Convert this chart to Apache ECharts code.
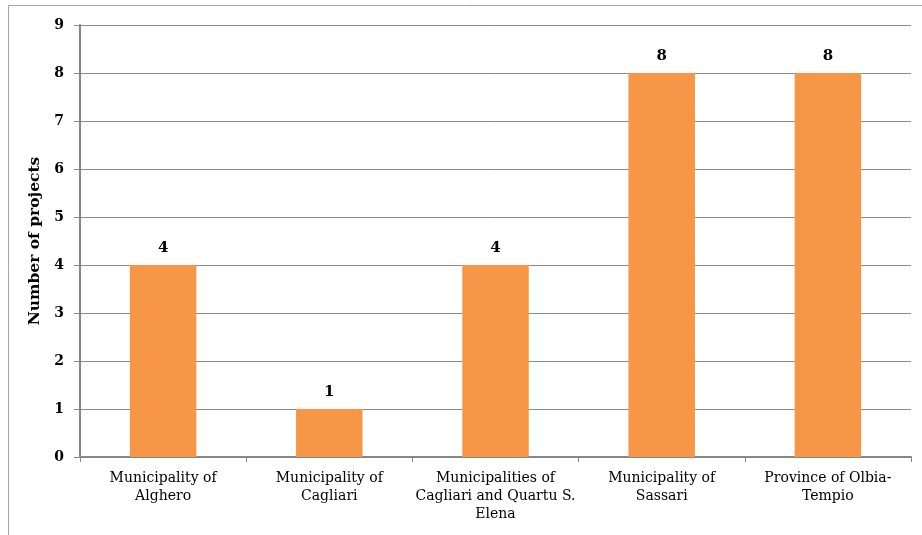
<!DOCTYPE html>
<html><head><meta charset="utf-8">
<script src="https://cdn.jsdelivr.net/npm/echarts@6/dist/echarts.min.js"></script>
<style>html,body{margin:0;padding:0;background:#fff}#c{width:922px;height:535px}</style>
</head><body><div id="c"></div>
<script>
var categories = ['Municipality of\nAlghero', 'Municipality of\nCagliari', 'Municipalities of\nCagliari and Quartu S.\nElena', 'Municipality of\nSassari', 'Province of Olbia-\nTempio'];
var values = [4, 1, 4, 8, 8];
var yTicks = [0, 1, 2, 3, 4, 5, 6, 7, 8, 9];
var chart = echarts.init(document.getElementById('c'));
var serif = '"DejaVu Serif", "Liberation Serif", serif';
chart.setOption({
  animation: false,
  graphic: [{type: 'rect', shape: {x: 8.5, y: 5.5, width: 940, height: 560}, style: {fill: 'none', stroke: '#a6a6a6', lineWidth: 1}, silent: true, z: -1}],
  grid: {left: 80, right: 11, top: 25, bottom: 78},
  xAxis: {
    type: 'category', data: categories,
    axisLine: {lineStyle: {color: '#878787', width: 2}},
    axisTick: {show: true, length: 5, lineStyle: {color: '#878787'}},
    axisLabel: {color: '#000', fontFamily: serif, fontSize: 14, lineHeight: 18, margin: 12, interval: 0}
  },
  yAxis: {
    type: 'value', min: yTicks[0], max: yTicks[yTicks.length - 1], interval: 1,
    name: 'Number of projects', nameLocation: 'middle', nameGap: 31, nameRotate: 90,
    nameTextStyle: {color: '#000', fontFamily: serif, fontSize: 15.5, fontWeight: 'bold'},
    axisLine: {show: true, lineStyle: {color: '#878787', width: 2}},
    axisTick: {show: true, length: 6, lineStyle: {color: '#878787'}},
    axisLabel: {color: '#000', fontFamily: serif, fontSize: 14, fontWeight: 'bold', margin: 16},
    splitLine: {lineStyle: {color: '#8c8c8c', width: 1}}
  },
  series: [{
    type: 'bar', data: values, barWidth: '40%',
    itemStyle: {color: '#F79646'},
    label: {show: true, position: 'top', color: '#000', fontFamily: serif, fontSize: 15, fontWeight: 'bold', distance: 9}
  }]
});
</script></body></html>
